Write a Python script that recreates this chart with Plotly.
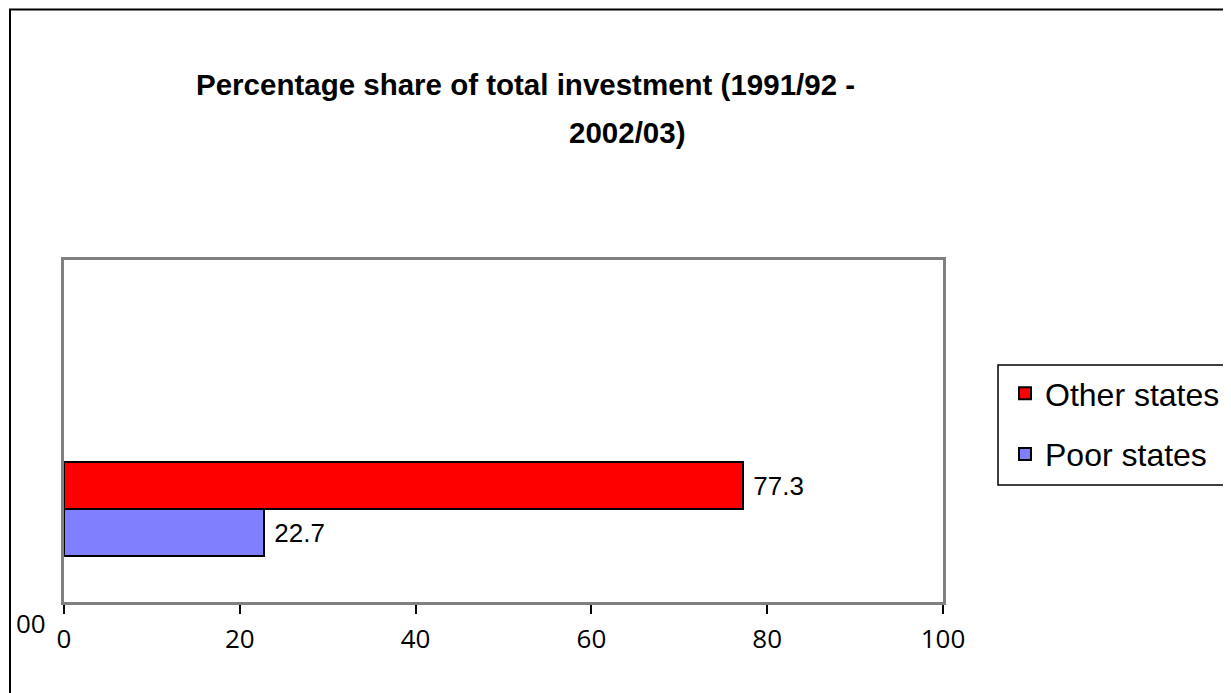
import plotly.graph_objects as go

categories = ["00"]
series_names = ["Poor states", "Other states"]
poor_values = [22.7]
other_values = [77.3]
x_ticks = [0, 20, 40, 60, 80, 100]
title_lines = ["Percentage share of total investment (1991/92 -", "2002/03)"]

W, H = 1231, 693
OFF = 8  # page body margin
L, T = 64 - OFF, 260 - OFF
PW, PH = 879, 342
R = W - L - PW
B = H - T - PH

def px_x(p):
    return (p - OFF - L) / PW

def px_y(p):
    return (H - B - (p - OFF)) / PH

fig = go.Figure()
fig.add_trace(go.Bar(
    y=categories, x=poor_values, name=series_names[0], orientation="h",
    marker=dict(color="#8080FF", line=dict(color="black", width=2)),
    text=[f" {v}" for v in poor_values], textposition="outside",
    textfont=dict(family="Liberation Sans, Arial", size=26, color="black"),
    cliponaxis=False, legendrank=2, legendgroup="g2",
))
fig.add_trace(go.Bar(
    y=categories, x=other_values, name=series_names[1], orientation="h",
    marker=dict(color="#FF0000", line=dict(color="black", width=2)),
    text=[f" {v}" for v in other_values], textposition="outside",
    textfont=dict(family="Liberation Sans, Arial", size=26, color="black"),
    cliponaxis=False, legendrank=1, legendgroup="g1",
))

fig.update_layout(
    width=W, height=H,
    margin=dict(l=L, r=R, t=T, b=B),
    paper_bgcolor="white", plot_bgcolor="white",
    barmode="group", bargap=0, bargroupgap=0,
    showlegend=True,
    legend=dict(
        x=px_x(1005), y=px_y(366), xanchor="left", yanchor="top",
        traceorder="grouped", tracegroupgap=16, itemwidth=30,
        font=dict(family="Liberation Sans, Arial", size=32, color="black"),
        bgcolor="rgba(0,0,0,0)", borderwidth=0,
    ),
    xaxis=dict(
        range=[0, 100], tickvals=x_ticks, ticktext=[str(t) for t in x_ticks],
        ticks="outside", ticklen=9, tickwidth=1.5, tickcolor="black",
        showline=True, linecolor="#808080", linewidth=3, mirror=True,
        showgrid=False, zeroline=False,
        tickfont=dict(family="Open Sans", size=26, color="black"),
        ticklabelstandoff=3,
    ),
    yaxis=dict(
        type="category", range=[-0.989, 2.649],
        showticklabels=False, ticks="",
        showline=True, linecolor="#808080", linewidth=3, mirror=True,
        showgrid=False, zeroline=False,
    ),
    shapes=[
        dict(type="rect", xref="paper", yref="paper",
             x0=px_x(10), x1=px_x(1245), y0=px_y(705), y1=px_y(9.5),
             line=dict(color="black", width=2), fillcolor="rgba(0,0,0,0)", layer="below"),
        dict(type="rect", xref="paper", yref="paper",
             x0=px_x(998), x1=px_x(1245), y0=px_y(485), y1=px_y(365),
             line=dict(color="black", width=1.5), fillcolor="rgba(0,0,0,0)"),
    ],
    annotations=[
        dict(text=title_lines[0], xref="paper", yref="paper",
             x=px_x(525), y=px_y(84), xanchor="center", yanchor="middle", showarrow=False,
             font=dict(family="Liberation Sans, Arial", size=29.5, color="black", weight="bold")),
        dict(text=title_lines[1], xref="paper", yref="paper",
             x=px_x(627), y=px_y(132), xanchor="center", yanchor="middle", showarrow=False,
             font=dict(family="Liberation Sans, Arial", size=29.5, color="black", weight="bold")),
        dict(text=categories[0], xref="paper", yref="paper",
             x=px_x(31), y=px_y(623), xanchor="center", yanchor="middle", showarrow=False,
             font=dict(family="Open Sans", size=26, color="black")),
    ],
)

fig.write_html("out.html")
